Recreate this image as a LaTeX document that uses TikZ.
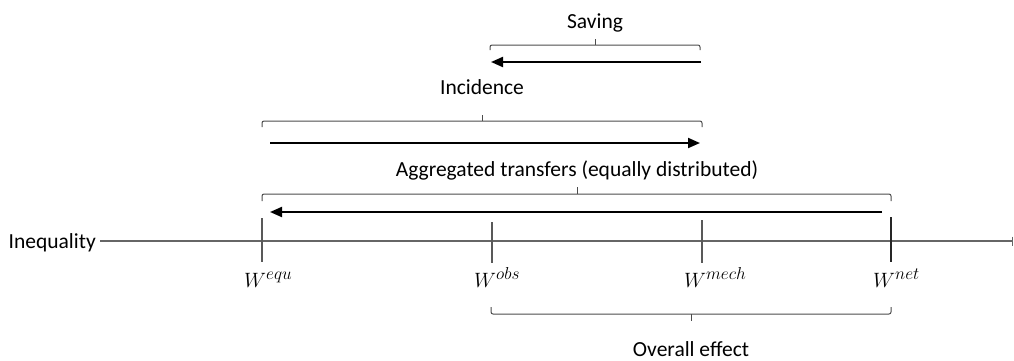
\documentclass[tikz,border=0pt]{standalone}
\usepackage{fontspec}
\setmainfont{Carlito}
\DeclareMathSizes{22.5}{22.5}{17}{13}
\usetikzlibrary{arrows.meta}
\begin{document}
\begin{tikzpicture}[x=1pt,y=-1pt,
  lbl/.style={inner sep=0pt,anchor=base,font=\fontsize{21.5}{25}\selectfont},
  wlbl/.style={inner sep=0pt,anchor=base west,font=\fontsize{22.5}{26}\selectfont},
  axisline/.style={draw=black!60,line width=1.2pt},
  tickline/.style={draw=black!65,line width=1.1pt},
  brack/.style={draw=black!70,line width=1pt,rounded corners=2pt},
  effarrow/.style={draw=black,line width=2pt,-{Triangle[length=12pt,width=10pt]}}]
\useasboundingbox (0,0) rectangle (1014,360);
% axis
\node[lbl,anchor=base east] (ineq) at (96,248) {Inequality};
\coordinate (axR) at (1013,241);
\draw[axisline,-{Bar[width=9pt,line width=1.4pt]}] (ineq.east |- axR) ++(4,0) coordinate (axL) -- (axR);
% ticks
\coordinate (equT) at (262,218); \coordinate (equB) at (262,262);
\coordinate (obsT) at (492,222); \coordinate (obsB) at (492,263);
\coordinate (mecT) at (702,220); \coordinate (mecB) at (702,263);
\coordinate (netT) at (891,217); \coordinate (netB) at (891,262);
\draw[tickline] (equT) -- (equB);
\draw[tickline] (obsT) -- (obsB);
\draw[tickline] (mecT) -- (mecB);
\draw[tickline,draw=black!85] (netT) -- (netB);
\node[wlbl] (wequ) at (244,287) {$W^{equ}$};
\node[wlbl] (wobs) at (474,287) {$W^{obs}$};
\node[wlbl] (wmec) at (684,287) {$W^{mech}$};
\node[wlbl] (wnet) at (873,287) {$W^{net}$};
% Saving
\node[lbl] (saving) at (595,28) {Saving};
\draw[brack] (490,50) -- (490,45) -- (700,45) -- (700,50);
\draw[brack,rounded corners=0pt] (595,45) -- (595,39);
\coordinate (savS) at (701,62); \coordinate (savE) at (491,62);
\draw[effarrow] (savS) -- (savE);
% Incidence
\node[lbl] (incid) at (482,94) {Incidence};
\draw[brack] (262,127) -- (262,121) -- (702,121) -- (702,127);
\draw[brack,rounded corners=0pt] (482,121) -- (482,115);
\coordinate (incS) at (270,143); \coordinate (incE) at (700,143);
\draw[effarrow] (incS) -- (incE);
% Aggregated
\node[lbl] (aggr) at (577,176) {Aggregated transfers (equally distributed)};
\draw[brack] (262,201) -- (262,194) -- (891,194) -- (891,201);
\draw[brack,rounded corners=0pt] (577,194) -- (577,187);
\coordinate (aggS) at (882,212); \coordinate (aggE) at (270,212);
\draw[effarrow] (aggS) -- (aggE);
% Overall
\draw[brack] (491,307) -- (491,314) -- (891,314) -- (891,307);
\draw[brack,rounded corners=0pt] (691,314) -- (691,321);
\node[lbl] (overall) at (691,356) {Overall effect};
\end{tikzpicture}
\end{document}
